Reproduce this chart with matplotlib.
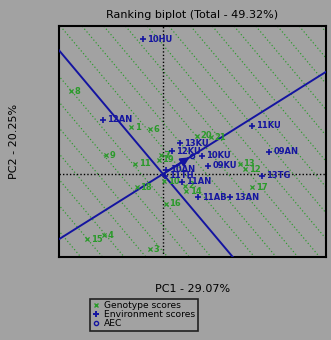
import numpy as np
import matplotlib
matplotlib.use("Agg")
import matplotlib.pyplot as plt
from matplotlib.lines import Line2D

# ---- data ----
env_names = ["10HU", "12AN", "11KU", "13KU", "12KU", "10KU", "09AN", "09KU",
             "13TG", "10AN", "11TH", "11AN", "11AB", "13AN"]
env_x = [-0.35, -1.04, 1.54, 0.29, 0.16, 0.67, 1.83, 0.78, 1.71, 0.05, 0.03, 0.33, 0.60, 1.16]
env_y = [2.70, 1.08, 0.96, 0.62, 0.46, 0.36, 0.44, 0.16, -0.04, 0.08, -0.04, -0.16, -0.46, -0.46]

gen_names = ["1", "2", "3", "4", "6", "7", "8", "9", "10", "11", "12", "13", "14",
             "15", "16", "17", "18", "19", "20", "21"]
gen_x = [-0.55, 0.38, -0.22, -1.02, -0.22, -0.03, -1.59, -0.98, 0.02, -0.48, 1.42, 1.33,
         0.40, -1.31, 0.05, 1.54, -0.45, -0.07, 0.59, 0.83]
gen_y = [0.94, -0.24, -1.50, -1.22, 0.90, 0.38, 1.66, 0.38, -0.14, 0.20, 0.10, 0.20,
         -0.34, -1.30, -0.60, -0.26, -0.26, 0.28, 0.76, 0.74]

aec_mean = (0.50, 0.363)
title = "Ranking biplot (Total - 49.32%)"
xlab = "PC1 - 29.07%"
ylab = "PC2 - 20.25%"

BG = "#a2a2a2"
BLUE = "#1414a0"
GREEN = "#2a9a2a"

W, H = 331, 340
fig = plt.figure(figsize=(W / 100, H / 100), dpi=100, facecolor=BG)
ax = fig.add_axes([59 / W, 1 - 257 / H, (326 - 59) / W, (257 - 26) / H], facecolor=BG)

xmin, xmax = -1.796, 2.815
ymin, ymax = -1.66, 2.96
ax.set_xlim(xmin, xmax)
ax.set_ylim(ymin, ymax)

# AEC lines
a = aec_mean[1] / aec_mean[0]
xs = np.array([xmin - 5, xmax + 5])
ax.plot(xs, a * xs, color=BLUE, lw=1.4, zorder=3)
ax.plot(xs, -xs / a, color=BLUE, lw=1.4, zorder=3)

# perpendicular dotted green lines
u = np.array([1.0, a]) / np.hypot(1.0, a)
step = 0.375 * u[0]
for k in range(-20, 21):
    if k == 0:
        continue
    c = k * step
    p0 = c * u
    ax.plot(xs, p0[1] - (xs - p0[0]) / a, color=GREEN, lw=0.85, ls=(0, (1, 2)), zorder=1)

# axis dotted lines
ax.axhline(0, color="black", lw=1.0, ls=(0, (1, 1.5)), zorder=2)
ax.axvline(0, color="black", lw=1.0, ls=(0, (1, 1.5)), zorder=2)

# arrow
ax.annotate("", xy=aec_mean, xytext=(0, 0),
            arrowprops=dict(arrowstyle="-|>", color=BLUE, lw=1.4, mutation_scale=13), zorder=4)
ax.plot([aec_mean[0]], [aec_mean[1]], marker="o", ms=3, mfc="none", mec=BLUE, mew=1, zorder=5)

# genotypes
ax.scatter(gen_x, gen_y, marker="x", s=9, color=GREEN, linewidths=0.9, zorder=4)
for n, x, y in zip(gen_names, gen_x, gen_y):
    ax.annotate(n, (x, y), xytext=(2.5, 0), textcoords="offset points", color=GREEN,
                fontsize=6, fontweight="bold", va="center", ha="left", zorder=4)

# environments
ax.scatter(env_x, env_y, marker="+", s=22, color=BLUE, linewidths=1.2, zorder=5)
for n, x, y in zip(env_names, env_x, env_y):
    ax.annotate(n, (x, y), xytext=(3, 0), textcoords="offset points", color=BLUE,
                fontsize=6, fontweight="bold", va="center", ha="left", zorder=5)

ax.set_xticks([])
ax.set_yticks([])
for s in ax.spines.values():
    s.set_linewidth(1.5)
    s.set_color("black")

ax.set_title(title, fontsize=8, pad=6)
fig.text((59 + 326) / 2 / W, 1 - 289 / H, xlab, ha="center", va="center", fontsize=8)
fig.text(14 / W, 1 - 141 / H, ylab, ha="center", va="center", rotation=90, fontsize=8)

handles = [
    Line2D([], [], marker="x", ls="none", color=GREEN, ms=3, mew=1),
    Line2D([], [], marker="+", ls="none", color=BLUE, ms=5, mew=1.4),
    Line2D([], [], marker="o", ls="none", mfc="none", mec=BLUE, ms=3, mew=1),
]
leg = fig.legend(handles, ["Genotype scores", "Environment scores", "AEC"],
                 loc="upper left", bbox_to_anchor=(90 / W, 1 - 299 / H),
                 fontsize=6.6, frameon=True, fancybox=False, facecolor=BG, edgecolor="black",
                 handlelength=0.8, handletextpad=0.5, borderpad=0.25, labelspacing=0.0,
                 borderaxespad=0)
leg.get_frame().set_linewidth(1.2)

fig.savefig("out.png", dpi=100, facecolor=BG)
